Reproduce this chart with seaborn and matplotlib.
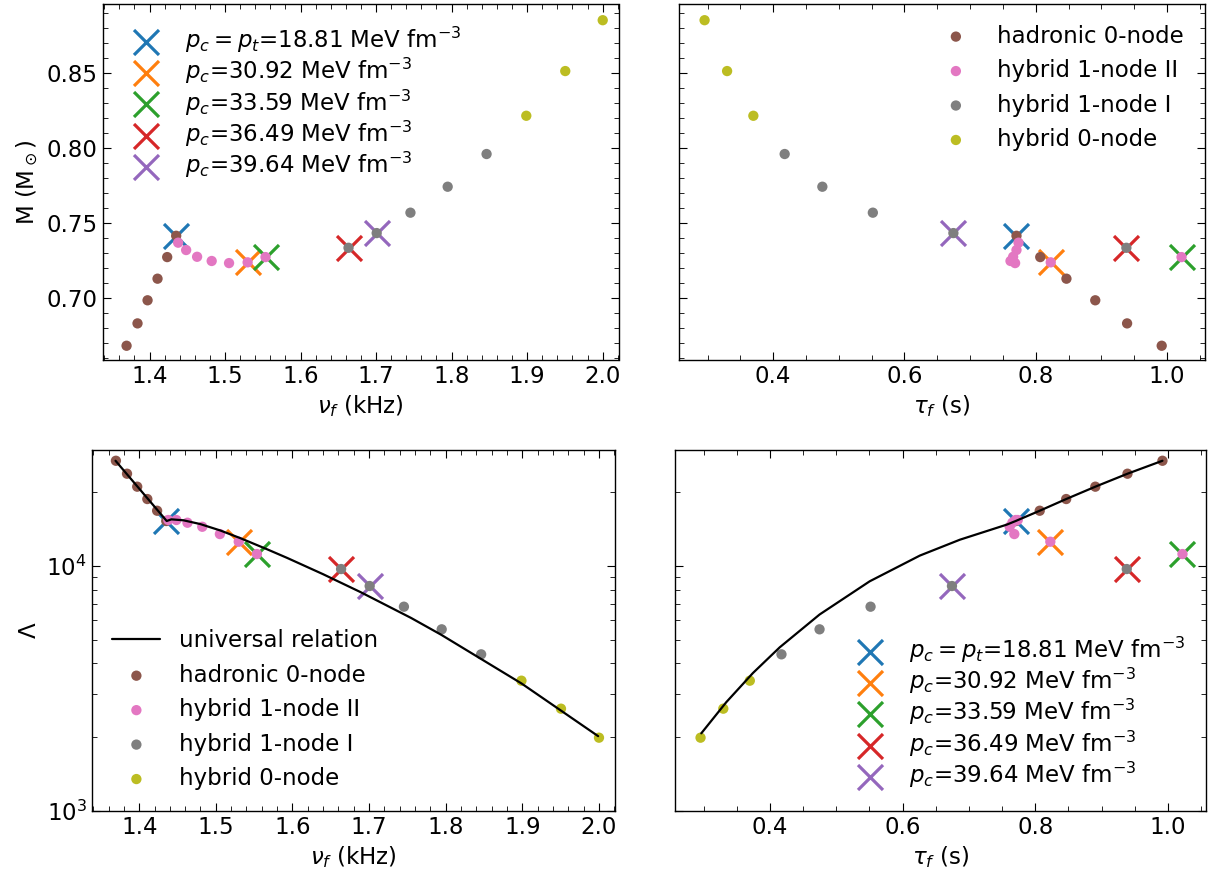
import matplotlib
matplotlib.use("Agg")
import matplotlib.pyplot as plt
import seaborn as sns
import numpy as np
from matplotlib.ticker import MultipleLocator, LogLocator, NullFormatter, FormatStrFormatter

# ---------------- data ----------------
# hadronic 0-node
had_nu = [1.3696, 1.3841, 1.3974, 1.4106, 1.4234, 1.4353]
had_M = [0.668, 0.6829, 0.6983, 0.7127, 0.7271, 0.7413]
had_tau = [0.9918, 0.9391, 0.8906, 0.8467, 0.8068, 0.7706]
had_Lam = [26930, 23840, 21100, 18785, 16827, 15277]
# hybrid 1-node II
h1b_nu = [1.4379, 1.4485, 1.4630, 1.4823, 1.5053, 1.5299, 1.5536]
h1b_M = [0.7367, 0.7318, 0.7273, 0.7245, 0.7231, 0.7236, 0.7271]
h1b_tau = [0.7737, 0.7706, 0.7655, 0.7615, 0.7685, 0.8228, 1.0220]
h1b_Lam = [15420, 15420, 15030, 14470, 13510, 12570, 11194]
# hybrid 1-node I
h1a_nu = [1.6635, 1.7008, 1.7455, 1.7948, 1.8463]
h1a_M = [0.7333, 0.7431, 0.7567, 0.7740, 0.7958]
h1a_tau = [0.9380, 0.6745, 0.5518, 0.4749, 0.4175]
h1a_Lam = [9721, 8285, 6820, 5512, 4356]
# hybrid 0-node
h0_nu = [1.8989, 1.9505, 2.0001]
h0_M = [0.8213, 0.8511, 0.8850]
h0_tau = [0.3698, 0.3298, 0.2955]
h0_Lam = [3399, 2612, 1988]

# universal relation curves
univ_nu = [1.3691, 1.4359, 1.4420, 1.4577, 1.4796, 1.5058, 1.5320, 1.5670,
           1.5932, 1.6400, 1.6893, 1.7548, 1.7941, 1.8990, 1.9990]
univ_nu_Lam = [26930, 15277, 15515, 15380, 14845, 13975, 13000, 11705,
               10790, 9260, 7812, 6136, 5238, 3311, 2017]
univ_tau = [0.2966, 0.3343, 0.3745, 0.4148, 0.4750, 0.5505, 0.6261, 0.6865,
            0.7570, 0.7706, 0.8068, 0.8467, 0.8906, 0.9391, 0.9918]
univ_tau_Lam = [2071, 2777, 3654, 4651, 6338, 8661, 11033, 12812,
                14760, 15277, 16827, 18785, 21100, 23840, 26930]

series_labels = ["hadronic 0-node", "hybrid 1-node II", "hybrid 1-node I", "hybrid 0-node"]
series_colors = ["C5", "C6", "C7", "C8"]

cross_labels = [r"$p_c=p_t$=18.81 MeV fm$^{-3}$", r"$p_c$=30.92 MeV fm$^{-3}$",
                r"$p_c$=33.59 MeV fm$^{-3}$", r"$p_c$=36.49 MeV fm$^{-3}$",
                r"$p_c$=39.64 MeV fm$^{-3}$"]
cross_colors = ["C0", "C1", "C2", "C3", "C4"]
# which star each cross marks: (series index, point index)
cross_ref = [(0, 5), (1, 5), (1, 6), (2, 0), (2, 1)]

nu_all = [had_nu, h1b_nu, h1a_nu, h0_nu]
M_all = [had_M, h1b_M, h1a_M, h0_M]
tau_all = [had_tau, h1b_tau, h1a_tau, h0_tau]
Lam_all = [had_Lam, h1b_Lam, h1a_Lam, h0_Lam]

# ---------------- style ----------------
sns.set_style("ticks")
FS = 16.5
plt.rcParams.update({
    "font.family": ["DejaVu Sans"],
    "font.size": FS,
    "axes.labelsize": FS,
    "legend.fontsize": FS,
    "xtick.labelsize": FS,
    "ytick.labelsize": FS,
    "text.color": "black",
    "axes.labelcolor": "black",
    "axes.edgecolor": "black",
    "xtick.color": "black",
    "ytick.color": "black",
    "xtick.direction": "in",
    "ytick.direction": "in",
    "xtick.top": True,
    "ytick.right": True,
    "xtick.major.size": 6,
    "ytick.major.size": 6,
    "xtick.minor.size": 3.5,
    "ytick.minor.size": 3.5,
    "xtick.minor.visible": True,
    "ytick.minor.visible": True,
    "axes.linewidth": 1.0,
})

W, H = 1216, 877
fig = plt.figure(figsize=(W / 100, H / 100), dpi=100)

def box(l, r, t, b):
    return [l / W, 1 - b / H, (r - l) / W, (b - t) / H]

ax_tl = fig.add_axes(box(102.7, 618.5, 4, 360))
ax_tr = fig.add_axes(box(679.3, 1204.5, 4, 360))
ax_bl = fig.add_axes(box(91.7, 615, 450, 810.7))
ax_br = fig.add_axes(box(675, 1205.7, 450, 810.7))

DOT_S = 55
CROSS_S = 18 ** 2


def draw(ax, xs_all, ys_all, dot_labels, cross_lbl, line=None, line_label=None):
    if line is not None:
        sns.lineplot(x=line[0], y=line[1], sort=False, estimator=None, color="black",
                     lw=1.6, label=line_label, ax=ax, zorder=5)
    for (si, pi), c, lab in zip(cross_ref, cross_colors, cross_labels):
        sns.scatterplot(x=[xs_all[si][pi]], y=[ys_all[si][pi]], marker="x", s=CROSS_S,
                        linewidth=2.3, color=c, ax=ax, zorder=2,
                        label=lab if cross_lbl else None)
    for xs, ys, c, lab in zip(xs_all, ys_all, series_colors, series_labels):
        sns.scatterplot(x=xs, y=ys, s=DOT_S, color=c, edgecolor="none", ax=ax, zorder=3,
                        label=lab if dot_labels else None)


draw(ax_tl, nu_all, M_all, False, True)
draw(ax_tr, tau_all, M_all, True, False)
draw(ax_bl, nu_all, Lam_all, True, False, line=(univ_nu, univ_nu_Lam),
     line_label="universal relation")
draw(ax_br, tau_all, Lam_all, False, True, line=(univ_tau, univ_tau_Lam))

# axes limits / ticks
for ax in (ax_tl, ax_bl):
    ax.set_xlim(1.338, 2.021)
    ax.xaxis.set_major_locator(MultipleLocator(0.1))
    ax.xaxis.set_minor_locator(MultipleLocator(0.02))
    ax.set_xlabel(r"$\nu_f$ (kHz)")
for ax in (ax_tr, ax_br):
    ax.set_xlim(0.257, 1.057)
    ax.xaxis.set_major_locator(MultipleLocator(0.2))
    ax.xaxis.set_minor_locator(MultipleLocator(0.05))
    ax.set_xlabel(r"$\tau_f$ (s)")
for ax in (ax_tl, ax_tr):
    ax.set_ylim(0.6585, 0.8958)
    ax.yaxis.set_major_locator(MultipleLocator(0.05))
    ax.yaxis.set_minor_locator(MultipleLocator(0.01))
for ax in (ax_bl, ax_br):
    ax.set_yscale("log")
    ax.set_ylim(1000, 29800)
    ax.yaxis.set_major_locator(LogLocator(base=10))
    ax.yaxis.set_minor_locator(LogLocator(base=10, subs=np.arange(2, 10)))
    ax.yaxis.set_minor_formatter(NullFormatter())
for ax in (ax_tr, ax_br):
    ax.tick_params(labelleft=False)
    ax.set_ylabel("")
ax_tl.set_ylabel(r"M (M$_\odot$)")
ax_bl.set_ylabel(r"$\Lambda$")
for ax in (ax_tl, ax_tr, ax_bl, ax_br):
    ax.tick_params(which="both", top=True, right=True, direction="in")
ax_tl.yaxis.set_major_formatter(FormatStrFormatter("%.2f"))

ax_tl.legend(loc="upper left", frameon=False, labelspacing=0.05, handlelength=2.0,
             handletextpad=0.7)
ax_tr.legend(loc="upper right", frameon=False, labelspacing=0.5, handlelength=2.0)
ax_bl.legend(loc="lower left", frameon=False, labelspacing=0.5, handlelength=2.1)
ax_br.legend(loc="lower right", frameon=False, labelspacing=0.05, handlelength=2.0,
             handletextpad=0.7)

fig.savefig("out.png", dpi=100)
